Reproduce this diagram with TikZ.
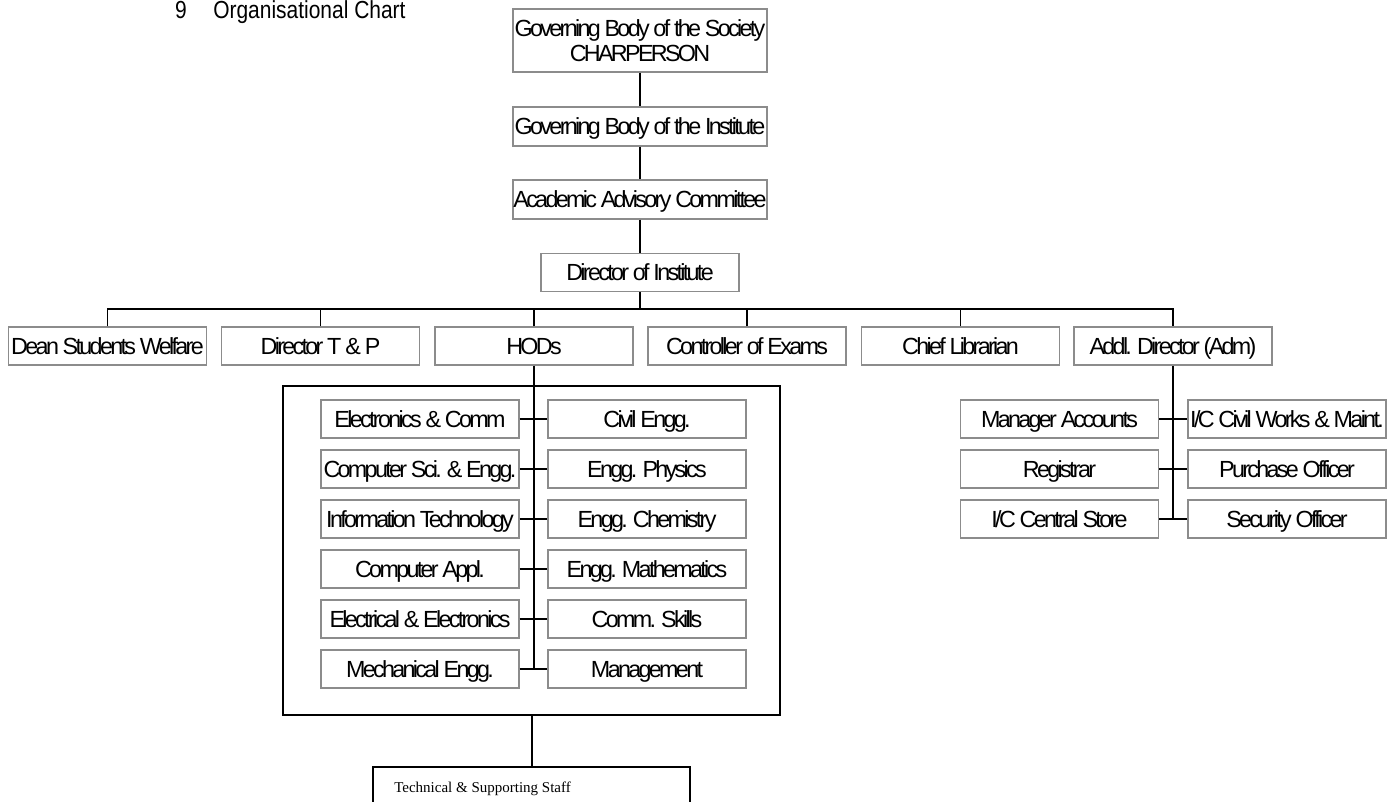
\documentclass[tikz,border=0pt]{standalone}
\usepackage{fontspec}
\setmainfont{Liberation Sans}
\newfontfamily\chartfont{Liberation Sans}[LetterSpace=-11.5]
\newfontfamily\titlefont{Liberation Sans}[FakeStretch=0.85]
\newfontfamily\stafffont{Liberation Serif}
\definecolor{boxgray}{HTML}{8C8C8C}
\tikzset{
  box/.style={draw=boxgray,line width=0.8pt,inner sep=0pt,align=center,
    font=\chartfont\fontsize{17.5}{19}\selectfont},
  unit/.style={box,minimum width=148.5pt,minimum height=28.5pt,text height=12.5pt,text depth=0pt},
  wideunit/.style={unit,minimum width=190.5pt,minimum height=29.25pt},
  link/.style={line width=0.8pt}
}
\begin{document}
\begin{tikzpicture}[x=0.75pt,y=-0.75pt]
\useasboundingbox (0,0) rectangle (1395,801);
\clip (0,0) rectangle (1395,801);
\node[anchor=base,font=\titlefont\fontsize{18.5}{20}\selectfont] (num) at (181,18) {9};
\node[anchor=base west,inner sep=0pt,font=\titlefont\fontsize{18.5}{20}\selectfont] (title) at (213,18) {Organisational Chart};

\node[box,minimum width=190.5pt,minimum height=47.25pt] (society) at (640,40.5) {Governing Body of the Society\\CHARPERSON};
\node[wideunit] (gbi) at (640,126.5) {Governing Body of the Institute};
\node[wideunit] (aac) at (640,199.5) {Academic Advisory Committee};
\node[unit] (dir) at (640,272.5) {Director of Institute};
\draw[link] (society) -- (gbi);
\draw[link] (gbi) -- (aac);
\draw[link] (aac) -- (dir);

\node[unit] (dean) at (107.5,346) {Dean Students Welfare};
\node[unit] (tp) at (320.5,346) {Director T\,\&\,P};
\node[unit] (hods) at (534,346) {HODs};
\node[unit] (coe) at (747,346) {Controller of Exams};
\node[unit] (lib) at (960.5,346) {Chief Librarian};
\node[unit] (addl) at (1173,346) {Addl. Director (Adm)};
\coordinate (bus) at (640,309);
\draw[link] (dir) -- (bus);
\draw[link] (dean.north) -- (dean.north |- bus) -- (addl.north |- bus) -- (addl.north);
\foreach \n in {tp,hods,coe,lib}
  \draw[link] (\n.north) -- (\n.north |- bus);

\node[draw,line width=1.5pt,minimum width=372.75pt,minimum height=246.75pt] (depts) at (531.5,550.5) {};
\node[unit] (ece) at (420,419) {Electronics \& Comm};
\node[unit] (cse) at (420,469) {Computer Sci. \& Engg.};
\node[unit] (it) at (420,519) {Information Technology};
\node[unit] (mca) at (420,569) {Computer Appl.};
\node[unit] (eee) at (420,619) {Electrical \& Electronics};
\node[unit] (mech) at (420,669) {Mechanical Engg.};
\node[unit] (civil) at (647,419) {Civil Engg.};
\node[unit] (phy) at (647,469) {Engg. Physics};
\node[unit] (chem) at (647,519) {Engg. Chemistry};
\node[unit] (maths) at (647,569) {Engg. Mathematics};
\node[unit] (comm) at (647,619) {Comm. Skills};
\node[unit] (mgmt) at (647,669) {Management};
\draw[link] (hods.south) -- (hods.south |- mgmt);
\draw[link] (ece) -- (civil);
\draw[link] (cse) -- (phy);
\draw[link] (it) -- (chem);
\draw[link] (mca) -- (maths);
\draw[link] (eee) -- (comm);
\draw[link] (mech) -- (mgmt);

\node[draw,line width=1.5pt,minimum width=237.75pt,minimum height=45pt,anchor=north] (staff) at (531.5,766) {};
\node[anchor=base west,inner sep=0pt,font=\stafffont\fontsize{11.25}{13}\selectfont] (stafftext) at (394,792) {Technical \& Supporting Staff};
\draw[line width=1.5pt] (depts.south) -- (staff.north);

\node[unit] (acc) at (1059.5,419) {Manager Accounts};
\node[unit] (reg) at (1059.5,469) {Registrar};
\node[unit] (store) at (1059.5,519) {I/C Central Store};
\node[unit] (works) at (1287,419) {I/C Civil Works \& Maint.};
\node[unit] (purch) at (1287,469) {Purchase Officer};
\node[unit] (sec) at (1287,519) {Security Officer};
\draw[link] (addl.south) -- (addl.south |- store);
\draw[link] (acc) -- (works);
\draw[link] (reg) -- (purch);
\draw[link] (store) -- (sec);
\end{tikzpicture}
\end{document}
